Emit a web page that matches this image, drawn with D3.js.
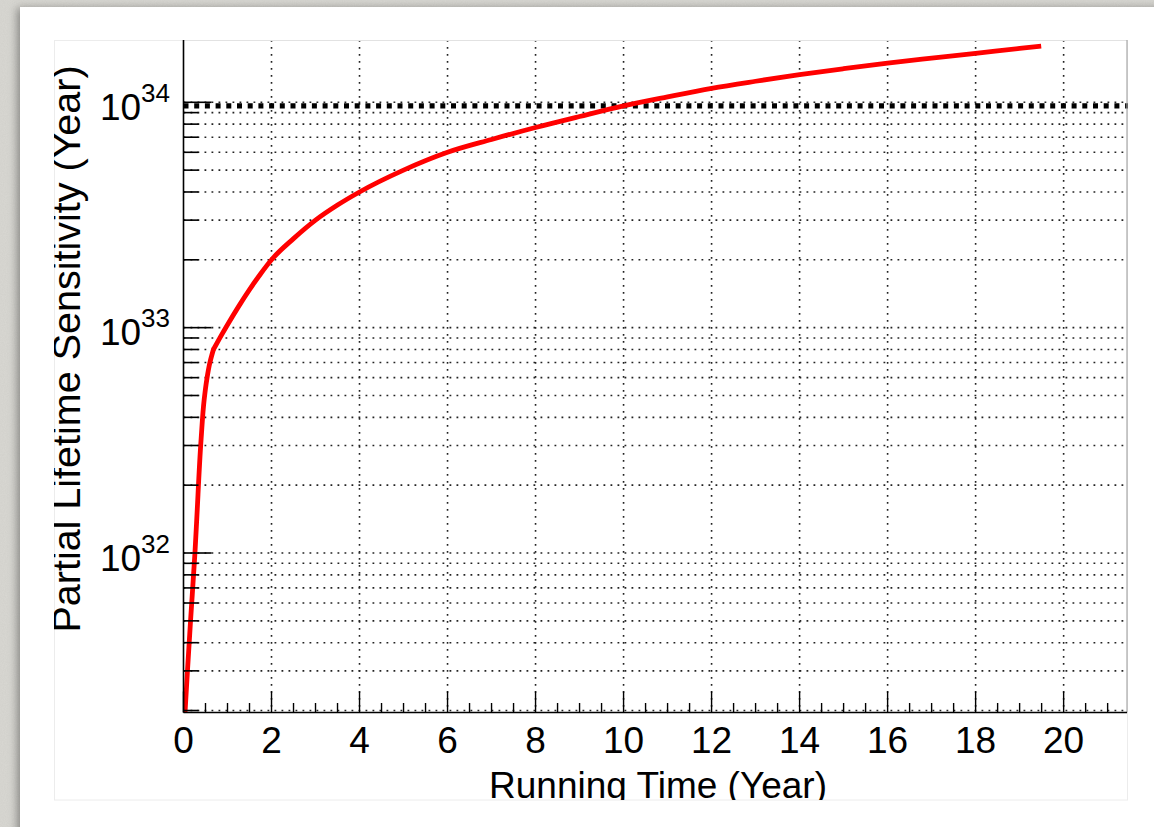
<!DOCTYPE html>
<html>
<head>
<meta charset="utf-8">
<script src="https://cdn.jsdelivr.net/npm/d3@7"></script>
<style>
  html, body { margin: 0; padding: 0; background: #d9d8d3; }
  svg { display: block; }
  text { font-family: "Liberation Sans", Arial, Helvetica, sans-serif; fill: #000; }
</style>
</head>
<body>
<svg id="chart" width="1154" height="827"></svg>
<script>
// Running time (years) and the partial lifetime sensitivity reached (years)
const runningTime = [0.035, 0.09, 0.16, 0.26, 0.30, 0.40, 0.47, 0.53, 0.60, 0.68, 0.83, 1.0, 1.25, 1.5, 1.75, 2, 2.5, 3, 3.5, 4, 5, 6, 7, 8, 9, 10, 11, 12, 13, 14, 15, 16, 17, 18, 19, 19.49];
const sensitivity = [1.96e31, 3.0e31, 5.0e31, 1.0e32, 1.4e32, 3.2e32, 4.8e32, 5.9e32, 7.0e32, 8.0e32, 9.03e32, 1.03e33, 1.24e33, 1.475e33, 1.73e33, 2.0e33, 2.483e33, 3.0e33, 3.5e33, 4.0e33, 5.0e33, 6.0e33, 6.84e33, 7.73e33, 8.65e33, 9.64e33, 1.057e34, 1.153e34, 1.24e34, 1.327e34, 1.41e34, 1.493e34, 1.57e34, 1.648e34, 1.734e34, 1.774e34];
// Early ramp drawn on its own; the rest drawn as a smooth curve from here on
const rampEnd = 0.68;

// Horizontal reference level
const referenceLevel = [9.65e33];

// Axis ranges and tick values
const xDomain = [0, 21.44];
const yDomain = [1.96e31, 1.89e34];
const xMajorTicks = [0, 2, 4, 6, 8, 10, 12, 14, 16, 18, 20];
const yDecades = [32, 33, 34];

const xTitle = "Running Time (Year)";
const yTitle = "Partial Lifetime Sensitivity (Year)";

const svg = d3.select("#chart");
const W = 1154, H = 827;
const plot = { left: 183.5, right: 1127, top: 40, bottom: 712.5 };

const defs = svg.append("defs");
// Paper grain for the backdrop
const grain = defs.append("filter").attr("id", "grain").attr("x", 0).attr("y", 0).attr("width", 1).attr("height", 1);
grain.append("feTurbulence").attr("type", "fractalNoise").attr("baseFrequency", 0.9).attr("numOctaves", 2).attr("seed", 4);
grain.append("feColorMatrix").attr("type", "matrix")
  .attr("values", "0 0 0 0 0.45  0 0 0 0 0.45  0 0 0 0 0.42  0 0 0 0.22 0");
const shadow = defs.append("filter").attr("id", "shadow").attr("x", -0.05).attr("y", -0.05).attr("width", 1.1).attr("height", 1.1);
shadow.append("feDropShadow").attr("dx", -3).attr("dy", 1).attr("stdDeviation", 4)
  .attr("flood-color", "#000").attr("flood-opacity", 0.35);
defs.append("clipPath").attr("id", "plotClip").append("rect")
  .attr("x", plot.left).attr("y", plot.top)
  .attr("width", plot.right - plot.left).attr("height", plot.bottom - plot.top);
defs.append("clipPath").attr("id", "padClip").append("rect")
  .attr("x", 54).attr("y", 40).attr("width", 1074).attr("height", 760);

// Backdrop and white sheet
svg.append("rect").attr("width", W).attr("height", H).attr("fill", "#d9d8d3");
svg.append("rect").attr("width", W).attr("height", H).attr("filter", "url(#grain)");
svg.append("rect").attr("x", 20).attr("y", 7).attr("width", W + 20).attr("height", H + 20)
  .attr("fill", "#fff").attr("filter", "url(#shadow)");

// Pad outline
svg.append("rect").attr("x", 54.5).attr("y", 40.5).attr("width", 1073).attr("height", 759.5)
  .attr("fill", "none").attr("stroke", "#ececec").attr("stroke-width", 1);

const x = d3.scaleLinear().domain(xDomain).range([plot.left, plot.right]);
const y = d3.scaleLog().domain(yDomain).range([plot.bottom, plot.top]);

// Log ticks: 1..9 x 10^n inside the range
const yTicks = [];
for (let e = 31; e <= 34; e++) {
  for (let k = 1; k <= 9; k++) {
    const v = k * Math.pow(10, e);
    if (v >= yDomain[0] && v <= yDomain[1]) yTicks.push({ v, major: k === 1 });
  }
}
const xMinorTicks = d3.range(0, xDomain[1], 0.5).filter(v => Math.abs(v / 2 - Math.round(v / 2)) > 1e-9);

const grid = svg.append("g").attr("clip-path", "url(#plotClip)");
grid.selectAll("line.hgrid").data(yTicks).join("line")
  .attr("x1", plot.left).attr("x2", plot.right)
  .attr("y1", d => y(d.v)).attr("y2", d => y(d.v))
  .attr("stroke", "#222").attr("stroke-width", 1.6).attr("stroke-dasharray", "1.8 5.2");
grid.selectAll("line.vgrid").data(xMajorTicks.filter(v => v > 0)).join("line")
  .attr("x1", d => x(d)).attr("x2", d => x(d))
  .attr("y1", plot.top).attr("y2", plot.bottom)
  .attr("stroke", "#222").attr("stroke-width", 1.6).attr("stroke-dasharray", "1.8 5.2");

// Thick dotted reference level
svg.append("g").selectAll("line").data(referenceLevel).join("line")
  .attr("x1", plot.left).attr("x2", plot.right + 1)
  .attr("y1", d => y(d)).attr("y2", d => y(d))
  .attr("stroke", "#000").attr("stroke-width", 5.2).attr("stroke-dasharray", "5 5.7");

// Frame top and right
svg.append("line").attr("x1", plot.left).attr("x2", plot.right).attr("y1", plot.top + 0.5).attr("y2", plot.top + 0.5)
  .attr("stroke", "#e2e2e2").attr("stroke-width", 1);
svg.append("line").attr("x1", plot.right).attr("x2", plot.right).attr("y1", plot.top).attr("y2", plot.bottom)
  .attr("stroke", "#a8a8a8").attr("stroke-width", 1.2);

// Sensitivity curve
const pts = runningTime.map((t, i) => [t, sensitivity[i]]);
const ramp = pts.filter(d => d[0] <= rampEnd);
const rest = pts.filter(d => d[0] >= rampEnd);
const curveGroup = svg.append("g").attr("clip-path", "url(#plotClip)")
  .attr("fill", "none").attr("stroke", "#ff0000").attr("stroke-width", 4.8)
  .attr("stroke-linejoin", "round").attr("stroke-linecap", "round");
curveGroup.append("path").datum(ramp)
  .attr("d", d3.line().x(d => x(d[0])).y(d => y(d[1])).curve(d3.curveMonotoneY));
curveGroup.append("path").datum(rest)
  .attr("stroke-linecap", "butt")
  .attr("d", d3.line().x(d => x(d[0])).y(d => y(d[1])).curve(d3.curveMonotoneX));

// Axes
const axes = svg.append("g").attr("stroke", "#000");
axes.append("line").attr("x1", plot.left).attr("x2", plot.left).attr("y1", plot.top).attr("y2", plot.bottom)
  .attr("stroke-width", 1.6);
axes.append("line").attr("x1", plot.left).attr("x2", plot.right).attr("y1", plot.bottom).attr("y2", plot.bottom)
  .attr("stroke-width", 1.6);
axes.selectAll("line.yt").data(yTicks).join("line")
  .attr("x1", plot.left).attr("x2", d => plot.left + (d.major ? 28 : 15))
  .attr("y1", d => y(d.v)).attr("y2", d => y(d.v)).attr("stroke-width", 1.6);
axes.selectAll("line.xt").data(xMajorTicks).join("line")
  .attr("x1", d => x(d)).attr("x2", d => x(d))
  .attr("y1", plot.bottom).attr("y2", plot.bottom - 21).attr("stroke-width", 1.4);
axes.selectAll("line.xm").data(xMinorTicks).join("line")
  .attr("x1", d => x(d)).attr("x2", d => x(d))
  .attr("y1", plot.bottom).attr("y2", plot.bottom - 9.5).attr("stroke-width", 1.4);

// Tick labels
svg.append("g").selectAll("text").data(xMajorTicks).join("text")
  .attr("x", d => x(d)).attr("y", plot.bottom + 40).attr("text-anchor", "middle")
  .attr("font-size", 37).text(d => d);

const yl = svg.append("g").selectAll("text").data(yDecades).join("text")
  .attr("x", 170).attr("y", d => y(Math.pow(10, d)) + 17.5).attr("text-anchor", "end");
yl.append("tspan").attr("font-size", 37).text("10");
yl.append("tspan").attr("font-size", 26).attr("dy", -18).text(d => d);

// Axis titles (clipped by the pad)
const titles = svg.append("g").attr("clip-path", "url(#padClip)");
titles.append("text").attr("x", 658).attr("y", 798).attr("text-anchor", "middle")
  .attr("font-size", 37).text(xTitle);
titles.append("text").attr("transform", "translate(80,349) rotate(-90)").attr("text-anchor", "middle")
  .attr("font-size", 39.5).text(yTitle);
</script>
</body>
</html>
